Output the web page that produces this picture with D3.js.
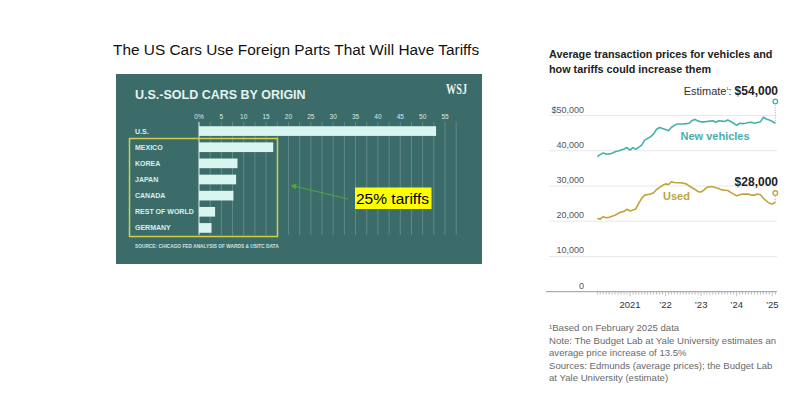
<!DOCTYPE html>
<html>
<head>
<meta charset="utf-8">
<style>
  body { margin: 0; background: #fff; font-family: "Liberation Sans", Arial, sans-serif; }
  svg { display: block; }
</style>
</head>
<body>
<script src="https://d3js.org/d3.v7.min.js"></script>
<script>
// ---- left panel data (share of US-sold cars, %)
const origins = ['U.S.', 'MEXICO', 'KOREA', 'JAPAN', 'CANADA', 'REST OF WORLD', 'GERMANY'];
const originShare = [53, 16.6, 8.6, 8.3, 7.7, 3.6, 2.8];
const shareTicks = [0, 5, 10, 15, 20, 25, 30, 35, 40, 45, 50, 55];

// ---- right panel data (average transaction price, monthly from Feb 2020 to Feb 2025)
const newPrices = [
  38300, 38900, 39400, 39000, 39100, 39300, 39700, 39900, 40200, 40500, 40900,
  40200, 40900, 40400, 41000, 41600, 43000, 43500, 44000, 44800, 46100, 46600, 46300,
  46000, 45700, 46600, 47200, 47600, 47600, 47600, 47700, 47800, 48600, 48900, 48400,
  48200, 48200, 48300, 48400, 48500, 48100, 48500, 48400, 48300, 48700, 48300, 47800,
  47200, 47800, 47700, 47800, 48000, 48100, 47800, 48000, 48200, 49500, 49000, 48700,
  48300, 47800
];
const usedPrices = [
  20800, 20600, 21300, 21000, 21100, 21400, 21700, 22200, 22600, 22800, 23400,
  22900, 23200, 23500, 25100, 26500, 27400, 27600, 27700, 28100, 29000, 29600, 30200,
  30600, 30400, 31200, 31000, 30900, 30900, 30800, 30600, 30000, 29500, 29000, 28400,
  28300, 28900, 29600, 29800, 29800, 29500, 29300, 28900, 28800, 28700, 28200, 27700,
  27200, 27500, 27700, 27700, 27700, 27400, 27400, 27700, 27500, 26500, 25800, 25100,
  24900, 25400
];
const estimateNew = 54000;
const estimateUsed = 28000;
const priceTicks = [0, 10000, 20000, 30000, 40000, 50000];
const yearTicks = [2021, 2022, 2023, 2024, 2025];
const footnotes = [
  '\u00B9Based on February 2025 data',
  'Note: The Budget Lab at Yale University estimates an',
  'average price increase of 13.5%',
  'Sources: Edmunds (average prices); the Budget Lab',
  'at Yale University (estimate)'
];

const svg = d3.select('body').append('svg')
  .attr('width', 792)
  .attr('height', 393);

// ================= left panel =================
svg.append('text')
  .attr('x', 113).attr('y', 55)
  .attr('font-size', 15.4)
  .attr('fill', '#111')
  .text('The US Cars Use Foreign Parts That Will Have Tariffs');

const panel = svg.append('g');
panel.append('rect')
  .attr('x', 116).attr('y', 74)
  .attr('width', 366).attr('height', 190)
  .attr('fill', '#3b6c6a');

panel.append('text')
  .attr('x', 135).attr('y', 99)
  .attr('font-size', 12.5)
  .attr('font-weight', 'bold')
  .attr('fill', '#e4f3ef')
  .text('U.S.-SOLD CARS BY ORIGIN');

panel.append('text')
  .attr('x', 446).attr('y', 94)
  .attr('font-family', '"Liberation Serif", serif')
  .attr('font-size', 15)
  .attr('font-weight', 'bold')
  .attr('textLength', 21)
  .attr('lengthAdjust', 'spacingAndGlyphs')
  .attr('fill', '#eef3f2')
  .text('WSJ');

const xs = d3.scaleLinear().domain([0, 55]).range([199, 445]);
const ys = d3.scaleBand().domain(origins).range([123, 236])
  .paddingInner(0.4).paddingOuter(0.2);

// grid lines every 2.5%
panel.append('g')
  .selectAll('line')
  .data(d3.range(0, 58, 2.5))
  .join('line')
  .attr('x1', d => xs(d)).attr('x2', d => xs(d))
  .attr('y1', 122).attr('y2', 235)
  .attr('stroke', d => d === 0 ? '#dff3ee' : 'rgba(255,255,255,0.2)')
  .attr('stroke-width', 1);

panel.append('g')
  .selectAll('text')
  .data(shareTicks)
  .join('text')
  .attr('x', d => xs(d))
  .attr('y', 118.5)
  .attr('text-anchor', 'middle')
  .attr('font-size', 6.5)
  .attr('fill', '#d9ebe7')
  .text(d => d === 0 ? '0%' : d);

panel.append('g')
  .selectAll('rect')
  .data(originShare)
  .join('rect')
  .attr('x', xs(0))
  .attr('y', (d, i) => ys(origins[i]))
  .attr('width', d => xs(d) - xs(0))
  .attr('height', ys.bandwidth())
  .attr('fill', '#d8f6ef');

panel.append('g')
  .selectAll('text')
  .data(origins)
  .join('text')
  .attr('x', 135)
  .attr('y', d => ys(d) + ys.bandwidth() / 2 + 2.5)
  .attr('font-size', 7)
  .attr('font-weight', 'bold')
  .attr('fill', '#dcefea')
  .text(d => d);

panel.append('text')
  .attr('x', 135).attr('y', 248)
  .attr('font-size', 4.8)
  .attr('font-weight', 'bold')
  .attr('fill', '#cfe3df')
  .text('SOURCE: CHICAGO FED ANALYSIS OF WARDS & USITC DATA');

// yellow box around tariffed origins
panel.append('rect')
  .attr('x', 129.5).attr('y', 138.5)
  .attr('width', 148).attr('height', 98)
  .attr('fill', 'none')
  .attr('stroke', '#cfcf4c')
  .attr('stroke-width', 1.5);

// arrow
svg.append('defs').append('marker')
  .attr('id', 'arrow')
  .attr('viewBox', '0 0 10 10')
  .attr('refX', 2).attr('refY', 5)
  .attr('markerWidth', 6).attr('markerHeight', 6)
  .attr('orient', 'auto-start-reverse')
  .append('path')
  .attr('d', 'M0,0 L10,5 L0,10 z')
  .attr('fill', '#4caa3c');

svg.append('line')
  .attr('x1', 348).attr('y1', 199)
  .attr('x2', 295).attr('y2', 186.3)
  .attr('stroke', '#4caa3c')
  .attr('stroke-width', 1)
  .attr('marker-end', 'url(#arrow)');

svg.append('rect')
  .attr('x', 355).attr('y', 187.5)
  .attr('width', 76.5).attr('height', 21.5)
  .attr('fill', '#ffff00');
svg.append('text')
  .attr('x', 356).attr('y', 203.5)
  .attr('font-size', 15.5)
  .attr('fill', '#000')
  .text('25% tariffs');

// ================= right panel =================
const rc = svg.append('g');

rc.append('g')
  .selectAll('text')
  .data(['Average transaction prices for vehicles and', 'how tariffs could increase them'])
  .join('text')
  .attr('x', 549)
  .attr('y', (d, i) => 58 + i * 14.5)
  .attr('font-size', 10.8)
  .attr('font-weight', 'bold')
  .attr('fill', '#222')
  .text(d => d);

const months = newPrices.map((d, i) => new Date(2020, 1 + i, 1));
const xt = d3.scaleTime()
  .domain([new Date(2021, 0, 1), new Date(2025, 0, 1)])
  .range([630, 772.3]);
const yp = d3.scaleLinear().domain([0, 50000]).range([291.7, 115.5]);

// grid
rc.append('g')
  .selectAll('line')
  .data(priceTicks.filter(d => d > 0))
  .join('line')
  .attr('x1', 549).attr('x2', 777)
  .attr('y1', d => yp(d)).attr('y2', d => yp(d))
  .attr('stroke', '#e8e8e8')
  .attr('stroke-width', 1);

rc.append('g')
  .selectAll('text')
  .data(priceTicks)
  .join('text')
  .attr('x', 584)
  .attr('y', d => yp(d) - 3)
  .attr('text-anchor', 'end')
  .attr('font-size', 9)
  .attr('fill', '#555')
  .text(d => (d === 50000 ? '$' : '') + d3.format(',')(d));

// baseline + monthly ticks
rc.append('line')
  .attr('x1', 546).attr('x2', 777)
  .attr('y1', yp(0)).attr('y2', yp(0))
  .attr('stroke', '#999')
  .attr('stroke-width', 1);

rc.append('g')
  .selectAll('line')
  .data(months)
  .join('line')
  .attr('x1', d => xt(d)).attr('x2', d => xt(d))
  .attr('y1', yp(0))
  .attr('y2', d => yp(0) + (d.getMonth() === 0 ? 4.5 : 3))
  .attr('stroke', '#999')
  .attr('stroke-width', 0.6);

rc.append('g')
  .selectAll('text')
  .data(yearTicks)
  .join('text')
  .attr('x', d => xt(new Date(d, 0, 1)))
  .attr('y', 308)
  .attr('text-anchor', 'middle')
  .attr('font-size', 9.5)
  .attr('fill', '#333')
  .text(d => d === 2021 ? '2021' : '\u2019' + String(d).slice(2));

const line = d3.line()
  .x((d, i) => xt(months[i]))
  .y(d => yp(d));

const newColor = '#47b0ab';
const usedColor = '#c2a33b';
const lastDate = months[months.length - 1];

[[newPrices, estimateNew, newColor], [usedPrices, estimateUsed, usedColor]].forEach(([vals, est, col]) => {
  rc.append('line')
    .attr('x1', xt(lastDate)).attr('x2', xt(lastDate))
    .attr('y1', yp(vals[vals.length - 1])).attr('y2', yp(est))
    .attr('stroke', '#aaa')
    .attr('stroke-width', 1)
    .attr('stroke-dasharray', '1,1.5');
  rc.append('path')
    .datum(vals)
    .attr('d', line)
    .attr('fill', 'none')
    .attr('stroke', col)
    .attr('stroke-width', 1.6)
    .attr('stroke-linejoin', 'round');
  rc.append('circle')
    .attr('cx', xt(lastDate))
    .attr('cy', yp(est))
    .attr('r', 2.3)
    .attr('fill', '#fff')
    .attr('stroke', col)
    .attr('stroke-width', 1.3);
});

rc.append('text')
  .attr('x', 680.5).attr('y', 140)
  .attr('font-size', 11)
  .attr('font-weight', 'bold')
  .attr('fill', newColor)
  .text('New vehicles');

rc.append('text')
  .attr('x', 663).attr('y', 200)
  .attr('font-size', 11)
  .attr('font-weight', 'bold')
  .attr('fill', usedColor)
  .text('Used');

const est = rc.append('text')
  .attr('x', 778).attr('y', 94.5)
  .attr('text-anchor', 'end')
  .attr('fill', '#333');
est.append('tspan').attr('font-size', 11).text('Estimate');
est.append('tspan').attr('font-size', 6).attr('dy', -4).text('\u00B9');
est.append('tspan').attr('font-size', 11).attr('dy', 4).text(':  ');
est.append('tspan').attr('font-size', 12).attr('font-weight', 'bold').attr('fill', '#222').text('$' + d3.format(',')(estimateNew));

rc.append('text')
  .attr('x', 778).attr('y', 186)
  .attr('text-anchor', 'end')
  .attr('font-size', 12)
  .attr('font-weight', 'bold')
  .attr('fill', '#222')
  .text('$' + d3.format(',')(estimateUsed));

rc.append('g')
  .selectAll('text')
  .data(footnotes)
  .join('text')
  .attr('x', 549)
  .attr('y', (d, i) => 331 + i * 12.6)
  .attr('font-size', 9.6)
  .attr('fill', '#6a6a6a')
  .text(d => d);
</script>
</body>
</html>
